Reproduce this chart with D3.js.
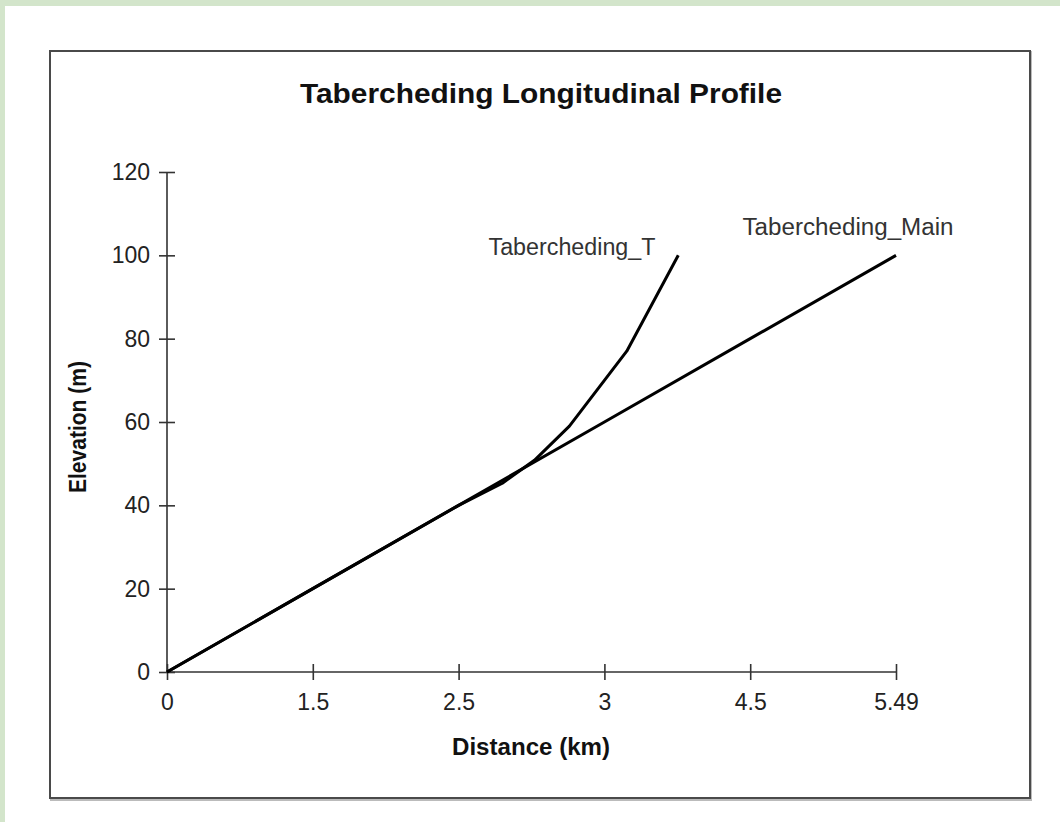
<!DOCTYPE html>
<html><head><meta charset="utf-8">
<script src="https://cdn.jsdelivr.net/npm/d3@7/dist/d3.min.js"></script>
<style>
html,body{margin:0;padding:0;background:#fff;}
svg{display:block;}
</style></head>
<body>
<script>
// Data
const xTickLabels = [0, 1.5, 2.5, 3, 4.5, 5.49];
const yTicks = [0, 20, 40, 60, 80, 100, 120];
const mainDist = [0, 1.5, 2.5, 3, 4.5, 5.49];
const mainElev = [0, 20, 40, 60, 80, 100];
const tDist = [0, 1.5, 2.5, 2.65, 2.76, 2.88, 3.0, 3.23, 3.76];
const tElev = [0, 20, 40, 45.3, 50.8, 59, 70, 77, 100];
const seriesNames = ["Tabercheding_Main", "Tabercheding_T"];

const W = 1060, H = 822;
const svg = d3.select("body").append("svg").attr("width", W).attr("height", H);

// background frame
svg.append("rect").attr("width", W).attr("height", H).attr("fill", "#d3e5cb");
svg.append("rect").attr("x", 5).attr("y", 6).attr("width", W - 5).attr("height", H - 6).attr("fill", "#fff");
// chart box with shadow
svg.append("rect").attr("x", 51).attr("y", 52).attr("width", 980).attr("height", 748)
  .attr("fill", "none").attr("stroke", "#bbb").attr("stroke-width", 2);
svg.append("rect").attr("x", 50).attr("y", 51).attr("width", 980).attr("height", 747)
  .attr("fill", "#fff").attr("stroke", "#4a4a4a").attr("stroke-width", 2);

const x0 = 167, x1 = 896, yB = 672, yT = 172;
const xr = xTickLabels.map((d, i) => x0 + (x1 - x0) * i / (xTickLabels.length - 1));
const x = d3.scaleLinear().domain(xTickLabels).range(xr);
const y = d3.scaleLinear().domain([0, 120]).range([yB, yT]);

const font = "'Liberation Sans',Arial,sans-serif";

// title
svg.append("text").attr("x", 541).attr("y", 103).attr("text-anchor", "middle")
  .attr("font-family", font).attr("font-weight", "bold")
  .attr("font-size", 28).attr("textLength", 482).attr("lengthAdjust", "spacingAndGlyphs")
  .attr("fill", "#111").text("Tabercheding Longitudinal Profile");

// axes
const gx = svg.append("g").attr("transform", `translate(0,${yB})`)
  .call(d3.axisBottom(x).tickValues(xTickLabels).tickSize(8).tickPadding(14).tickFormat(d => String(d)));
gx.selectAll(".tick line").attr("y1", -8).attr("y2", 8);
const gy = svg.append("g").attr("transform", `translate(${x0},0)`)
  .call(d3.axisLeft(y).tickValues(yTicks).tickSize(8).tickPadding(9));
gy.selectAll(".tick line").attr("x1", -8).attr("x2", 8);
[gx, gy].forEach(g => {
  g.select(".domain").attr("stroke", "#333").attr("stroke-width", 1.6);
  g.selectAll(".tick line").attr("stroke", "#333").attr("stroke-width", 1.6);
  g.selectAll("text").attr("font-family", font).attr("font-size", 23).attr("fill", "#222");
});
gx.select(".domain").attr("d", `M${x0},0H${x1}`);
gy.select(".domain").attr("d", `M0,${yB}V${yT}`);

// axis titles
svg.append("text").attr("x", 531).attr("y", 755).attr("text-anchor", "middle")
  .attr("font-family", font).attr("font-weight", "bold").attr("font-size", 23).attr("fill", "#111")
  .attr("textLength", 158).attr("lengthAdjust", "spacingAndGlyphs")
  .text("Distance (km)");
svg.append("text").attr("transform", "translate(86,427) rotate(-90)").attr("text-anchor", "middle")
  .attr("font-family", font).attr("font-weight", "bold").attr("font-size", 23).attr("fill", "#111")
  .attr("textLength", 132).attr("lengthAdjust", "spacingAndGlyphs")
  .text("Elevation (m)");

// lines
const line = d3.line().x(d => x(d[0])).y(d => y(d[1]));
const mainData = mainDist.map((d, i) => [d, mainElev[i]]);
const tData = tDist.map((d, i) => [d, tElev[i]]);
svg.append("path").datum(mainData).attr("d", line).attr("fill", "none").attr("stroke", "#000").attr("stroke-width", 3);
svg.append("path").datum(tData).attr("d", line).attr("fill", "none").attr("stroke", "#000").attr("stroke-width", 3)
  .attr("stroke-linejoin", "round");

// series labels
svg.append("text").attr("x", 848).attr("y", 235).attr("text-anchor", "middle")
  .attr("font-family", font).attr("font-size", 23).attr("fill", "#333")
  .attr("textLength", 211).attr("lengthAdjust", "spacingAndGlyphs").text(seriesNames[0]);
svg.append("text").attr("x", 572).attr("y", 255).attr("text-anchor", "middle")
  .attr("font-family", font).attr("font-size", 23).attr("fill", "#333")
  .attr("textLength", 167).attr("lengthAdjust", "spacingAndGlyphs").text(seriesNames[1]);
</script>
</body></html>
